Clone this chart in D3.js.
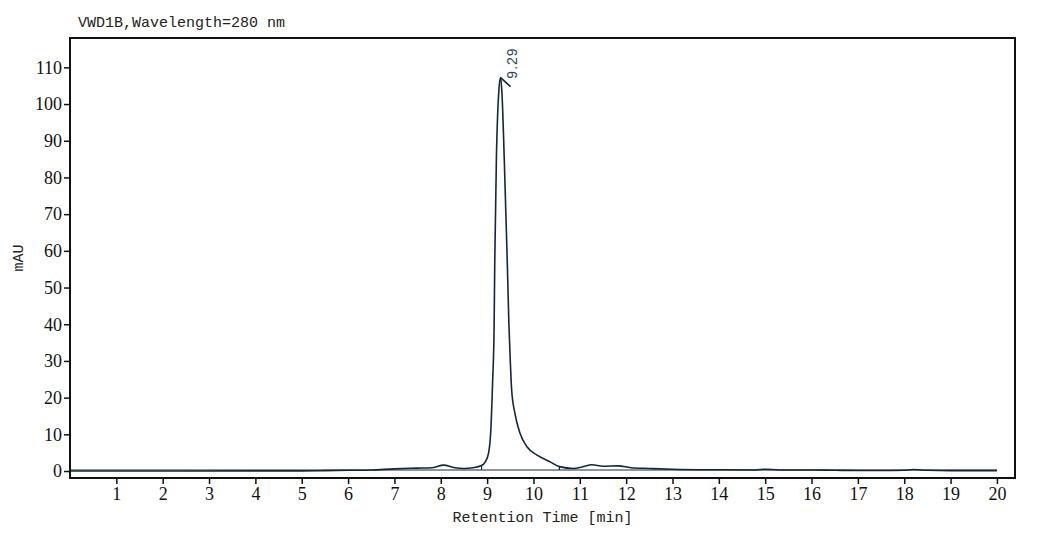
<!DOCTYPE html>
<html>
<head>
<meta charset="utf-8">
<script src="https://cdn.jsdelivr.net/npm/d3@7"></script>
<style>
  body { margin: 0; background: #fff; }
  .tick text { font-family: "Liberation Serif", serif; font-size: 18px; fill: #111; }
  .tick line { stroke: #111; stroke-width: 1.5; }
</style>
</head>
<body>
<svg width="1048" height="534"></svg>
<script>
// chromatogram trace (time in min, signal in mAU)
var times = [0, 5, 5.5, 6, 6.5, 7, 7.5, 7.8, 8.06, 8.3, 8.5, 8.7, 8.88, 8.96, 9.03, 9.08, 9.12, 9.15, 9.165, 9.2, 9.25, 9.29,
             9.32, 9.37, 9.435, 9.47, 9.5, 9.53, 9.6, 9.71, 9.86, 10.07, 10.36, 10.56, 10.86, 11.05, 11.26, 11.5, 11.83, 12.1,
             12.5, 13, 14, 14.8, 15, 15.3, 16, 16.5, 17, 17.5, 18, 18.2, 18.5, 19, 20];
var signal = [0, 0.05, 0.1, 0.2, 0.3, 0.6, 0.8, 0.9, 1.6, 0.9, 0.7, 0.9, 1.5, 2.5, 4.8, 11.2, 24.8, 38.4, 57, 85, 103, 107.2,
              103, 85, 57, 40, 30, 22, 15.7, 10.3, 6.6, 4.4, 2.5, 1.2, 0.7, 1.1, 1.7, 1.3, 1.4, 0.9,
              0.7, 0.5, 0.35, 0.3, 0.5, 0.3, 0.3, 0.2, 0.15, 0.15, 0.2, 0.4, 0.2, 0.1, 0.1];
var xTicks = [1, 2, 3, 4, 5, 6, 7, 8, 9, 10, 11, 12, 13, 14, 15, 16, 17, 18, 19, 20];
var yTicks = [0, 10, 20, 30, 40, 50, 60, 70, 80, 90, 100, 110];
var peakTime = 9.29, peakHeight = 107.2, peakLabel = "9.29";
var integStart = 8.88, integEnd = 10.56;

var pLeft = 70, pRight = 1015, pTop = 38, pBottom = 478;

var svg = d3.select("svg");
var xs = d3.scaleLinear().domain([0, 20.39]).range([pLeft, pRight]);
var ys = d3.scaleLinear().domain([-1.9, 118]).range([pBottom, pTop]);

// title
svg.append("text")
    .attr("x", 78).attr("y", 27)
    .attr("font-family", "Liberation Mono, monospace").attr("font-size", 15)
    .attr("fill", "#222")
    .text("VWD1B,Wavelength=280 nm");

// ---- axes ----
var gx = svg.append("g")
    .attr("transform", "translate(0," + pBottom + ")")
    .call(d3.axisBottom(xs).tickValues(xTicks).tickSize(6).tickSizeOuter(0).tickPadding(3));
gx.select(".domain").remove();

var gy = svg.append("g")
    .attr("transform", "translate(" + pLeft + ",0)")
    .call(d3.axisLeft(ys).tickValues(yTicks).tickSize(6).tickSizeOuter(0).tickPadding(2));
gy.select(".domain").remove();

// axis titles
svg.append("text")
    .attr("x", (pLeft + pRight) / 2).attr("y", 522)
    .attr("text-anchor", "middle")
    .attr("font-family", "Liberation Mono, monospace").attr("font-size", 15)
    .attr("fill", "#222")
    .text("Retention Time [min]");

svg.append("text")
    .attr("transform", "translate(23," + ((pTop + pBottom) / 2) + ") rotate(-90)")
    .attr("text-anchor", "middle")
    .attr("font-family", "Liberation Mono, monospace").attr("font-size", 15)
    .attr("fill", "#222")
    .text("mAU");

// ---- baseline (grey) ----
svg.append("line")
    .attr("x1", xs(0)).attr("x2", xs(20))
    .attr("y1", ys(0.3)).attr("y2", ys(0.3))
    .attr("stroke", "#8c959c").attr("stroke-width", 2);

// ---- trace ----
var pts = times.map(function(t, i) { return {t: t, v: signal[i]}; });
var line = d3.line()
    .x(function(d) { return xs(d.t); })
    .y(function(d) { return ys(d.v); })
    .curve(d3.curveMonotoneX);

svg.append("path")
    .datum(pts)
    .attr("fill", "none")
    .attr("stroke", "#13273a")
    .attr("stroke-width", 1.6)
    .attr("d", line);

// integration markers
[integStart, integEnd].forEach(function(t) {
    var i = times.indexOf(t);
    svg.append("line")
        .attr("x1", xs(t)).attr("x2", xs(t))
        .attr("y1", ys(signal[i])).attr("y2", ys(0.3))
        .attr("stroke", "#13273a").attr("stroke-width", 1.2);
});

// peak label
svg.append("line")
    .attr("x1", xs(peakTime)).attr("y1", ys(peakHeight))
    .attr("x2", xs(peakTime) + 10).attr("y2", ys(peakHeight) + 9)
    .attr("stroke", "#13273a").attr("stroke-width", 1.6);
svg.append("text")
    .attr("transform", "translate(" + (xs(peakTime) + 16) + "," + (ys(peakHeight) + 1) + ") rotate(-90)")
    .attr("font-family", "Liberation Sans, Arial, sans-serif").attr("font-size", 14)
    .attr("letter-spacing", 1)
    .attr("fill", "#2b3f55")
    .text(peakLabel);

// frame
svg.append("rect")
    .attr("x", pLeft).attr("y", pTop)
    .attr("width", pRight - pLeft).attr("height", pBottom - pTop)
    .attr("fill", "none").attr("stroke", "#111").attr("stroke-width", 2);
</script>
</body>
</html>
